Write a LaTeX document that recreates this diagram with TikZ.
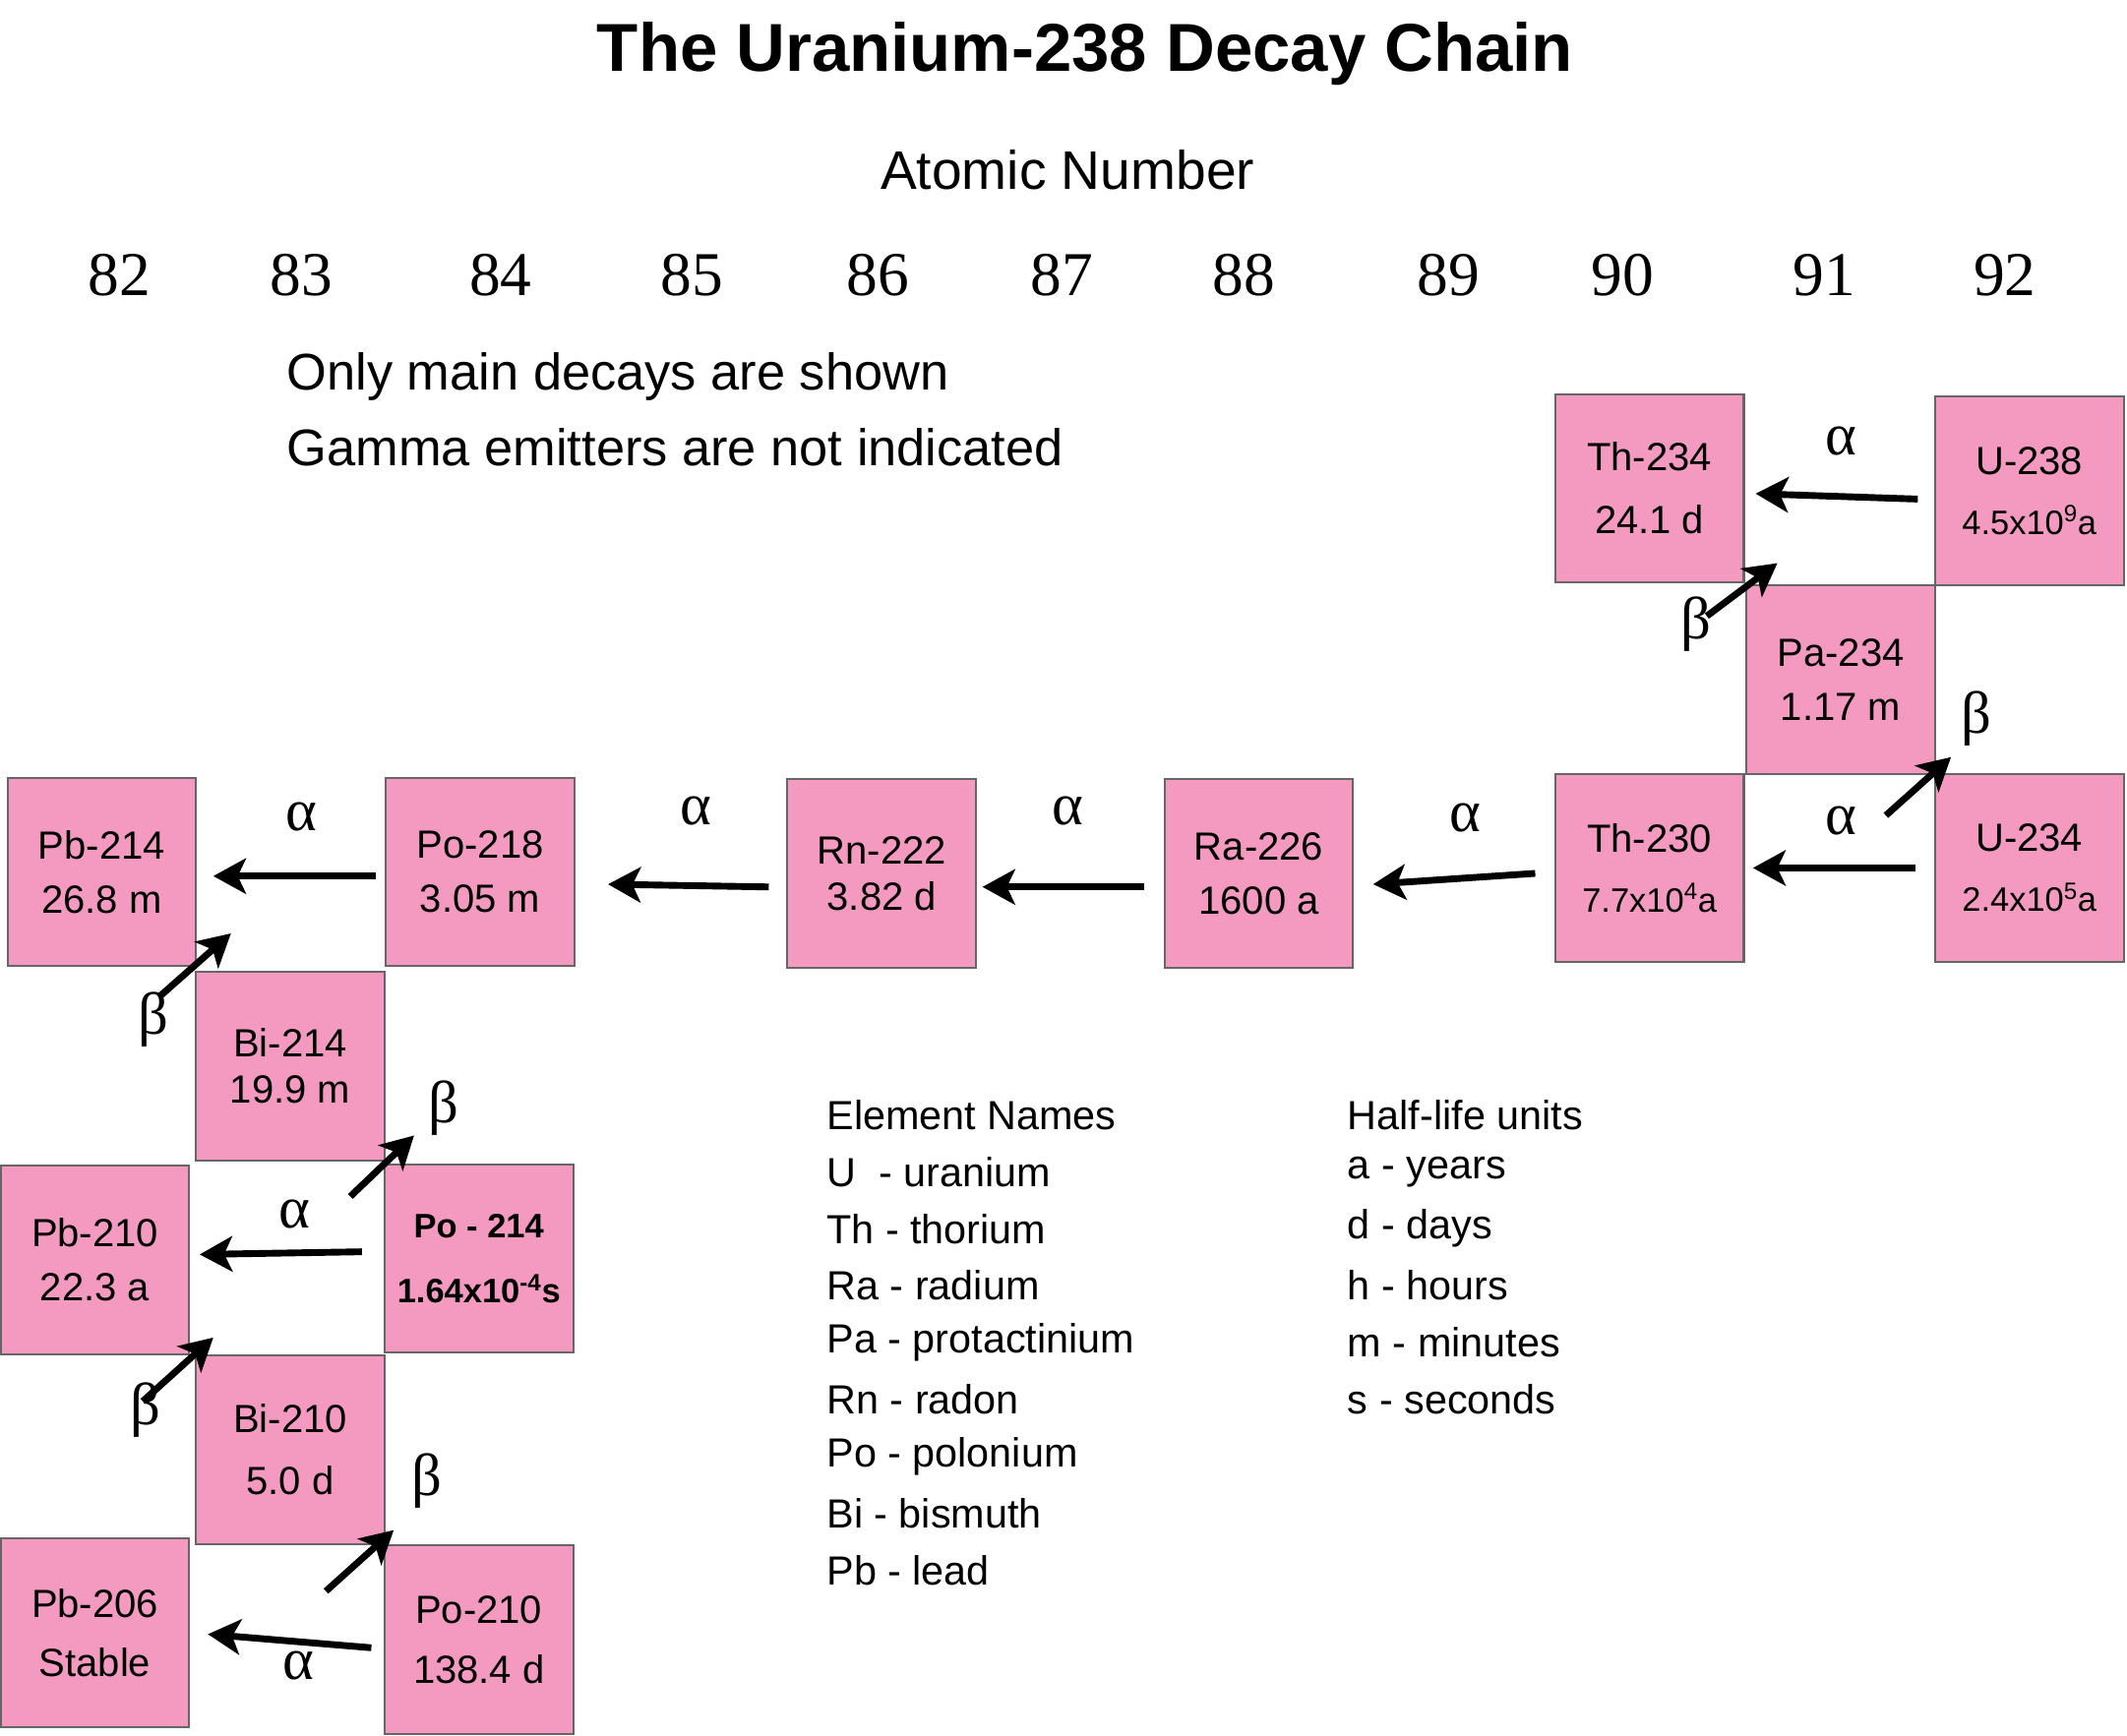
\documentclass[tikz,border=0pt]{standalone}
\usepackage{fontspec}
\setmainfont{Liberation Sans}
\newfontfamily\serf{Liberation Serif}
\usetikzlibrary{arrows.meta}
\begin{document}
\begin{tikzpicture}[x=1pt,y=-1pt,
 box/.style={draw=black!60,line width=1.5pt,fill={rgb,255:red,244;green,154;blue,193},minimum width=139pt,minimum height=139pt,inner sep=0pt,align=center,font=\fontsize{29}{40}\selectfont},
 arr/.style={line width=5pt,-{Stealth[length=24pt,width=26pt,inset=6pt]}},
 gr/.style={font=\serf\fontsize{44}{44}\selectfont},
 num/.style={font=\serf\fontsize{46}{46}\selectfont},
 leg/.style={anchor=west,font=\fontsize{30}{30}\selectfont}]
\useasboundingbox (0,0) rectangle (1568,1280);
\node[font=\bfseries\fontsize{50}{50}\selectfont] (title) at (800,40) {The Uranium-238 Decay Chain};
\node[font=\fontsize{40}{40}\selectfont] (an) at (787,125) {Atomic Number};
\foreach \n/\x in {82/88,83/222,84/369,85/510,86/647,87/783,88/917,89/1068,90/1196,91/1345,92/1478}
  \node[num] (z\n) at (\x,203) {\n};
\node[anchor=west,font=\fontsize{38}{38}\selectfont] (n1) at (208,278) {Only main decays are shown};
\node[anchor=west,font=\fontsize{38}{38}\selectfont] (n2) at (208,330) {Gamma emitters are not indicated};

\node[box] (u238) at (1496,362) {U-238\\[4pt]\fontsize{25}{25}\selectfont 4.5x10\textsuperscript{9}a};
\node[box] (th234) at (1216,360) {Th-234\\[6pt]24.1 d};
\node[box] (pa234) at (1357,501) {Pa-234\\1.17 m};
\node[box] (u234) at (1496,640) {U-234\\[4pt]\fontsize{25}{25}\selectfont 2.4x10\textsuperscript{5}a};
\node[box] (th230) at (1216,640) {Th-230\\[4pt]\fontsize{25}{25}\selectfont 7.7x10\textsuperscript{4}a};
\node[box] (ra226) at (928,644) {Ra-226\\1600 a};
\node[box] (rn222) at (650,644) {Rn-222\\[-6pt]3.82 d};
\node[box] (po218) at (354,643) {Po-218\\3.05 m};
\node[box] (pb214) at (75,643) {Pb-214\\26.8 m};
\node[box] (bi214) at (214,786) {Bi-214\\[-6pt]19.9 m};
\node[box] (po214) at (353,928) {\bfseries\fontsize{25}{25}\selectfont Po - 214\\[8pt]\bfseries\fontsize{25}{25}\selectfont 1.64x10\textsuperscript{-4}s};
\node[box] (pb210) at (70,929) {Pb-210\\22.3 a};
\node[box] (bi210) at (214,1069) {Bi-210\\[6pt]5.0 d};
\node[box] (po210) at (353,1209) {Po-210\\[4pt]138.4 d};
\node[box] (pb206) at (70,1204) {Pb-206\\[4pt]Stable};

\draw[arr] ([xshift=-12pt,yshift=-6pt]u238.west) -- ([xshift=8pt,yshift=-4pt]th234.east);
\node[gr] (a1) at (1357,325) {α};
\draw[arr] ([xshift=-28pt,yshift=-24pt]th234.south east) -- ([xshift=24pt,yshift=15pt]th234.south east);
\node[gr] (b1) at (1250,460) {β};
\draw[arr] ([xshift=-37pt,yshift=-30pt]pa234.south east) -- ([xshift=11pt,yshift=13pt]pa234.south east);
\node[gr] (b2) at (1457,530) {β};
\draw[arr] ([xshift=-14pt]u234.west) -- ([xshift=6pt]th230.east);
\node[gr] (a2) at (1357,605) {α};
\draw[arr] ([xshift=-14pt,yshift=-4pt]th230.west) -- ([xshift=14pt,yshift=-8pt]ra226.east);
\node[gr] (a3) at (1080,603) {α};
\draw[arr] ([xshift=-14pt,yshift=-10pt]ra226.west) -- ([xshift=4pt,yshift=-10pt]rn222.east);
\node[gr] (a4) at (787,598) {α};
\draw[arr] ([xshift=-13pt,yshift=-10pt]rn222.west) -- ([xshift=24pt,yshift=-9pt]po218.east);
\node[gr] (a5) at (513,598) {α};
\draw[arr] ([xshift=-7pt,yshift=-3pt]po218.west) -- ([xshift=12pt,yshift=-3pt]pb214.east);
\node[gr] (a6) at (222,602) {α};
\draw[arr] ([xshift=-27pt,yshift=-21pt]pb214.south east) -- ([xshift=25pt,yshift=25pt]pb214.south east);
\node[gr] (b3) at (113,752) {β};
\draw[arr] ([xshift=-26pt,yshift=-26pt]bi214.south east) -- ([xshift=21pt,yshift=19pt]bi214.south east);
\node[gr] (b4) at (327,817) {β};
\draw[arr] ([xshift=-16pt,yshift=5pt]po214.west) -- ([xshift=7pt,yshift=4pt]pb210.east);
\node[gr] (a7) at (217,895) {α};
\draw[arr] ([xshift=-35pt,yshift=-34pt]pb210.south east) -- ([xshift=17pt,yshift=13pt]pb210.south east);
\node[gr] (b5) at (107,1040) {β};
\draw[arr] ([xshift=-44pt,yshift=-34pt]bi210.south east) -- ([xshift=6pt,yshift=11pt]bi210.south east);
\node[gr] (b6) at (315,1092) {β};
\draw[arr] ([xshift=-9pt,yshift=-6pt]po210.west) -- ([xshift=13pt,yshift=-1pt]pb206.east);
\node[gr] (a8) at (220,1228) {α};

\foreach \t [count=\i from 0] in {Element Names,U\ \ - uranium,Th - thorium,Ra - radium,Pa - protactinium,Rn - radon,Po - polonium,Bi - bismuth,Pb - lead}
  \node[leg] (e\i) at (606,822+42*\i) {\t};
\foreach \t [count=\i from 0] in {Half-life units,a - years,d - days,h - hours,m - minutes,s - seconds}
  \node[leg] (h\i) at (990,822+42*\i) {\t};
\end{tikzpicture}
\end{document}
